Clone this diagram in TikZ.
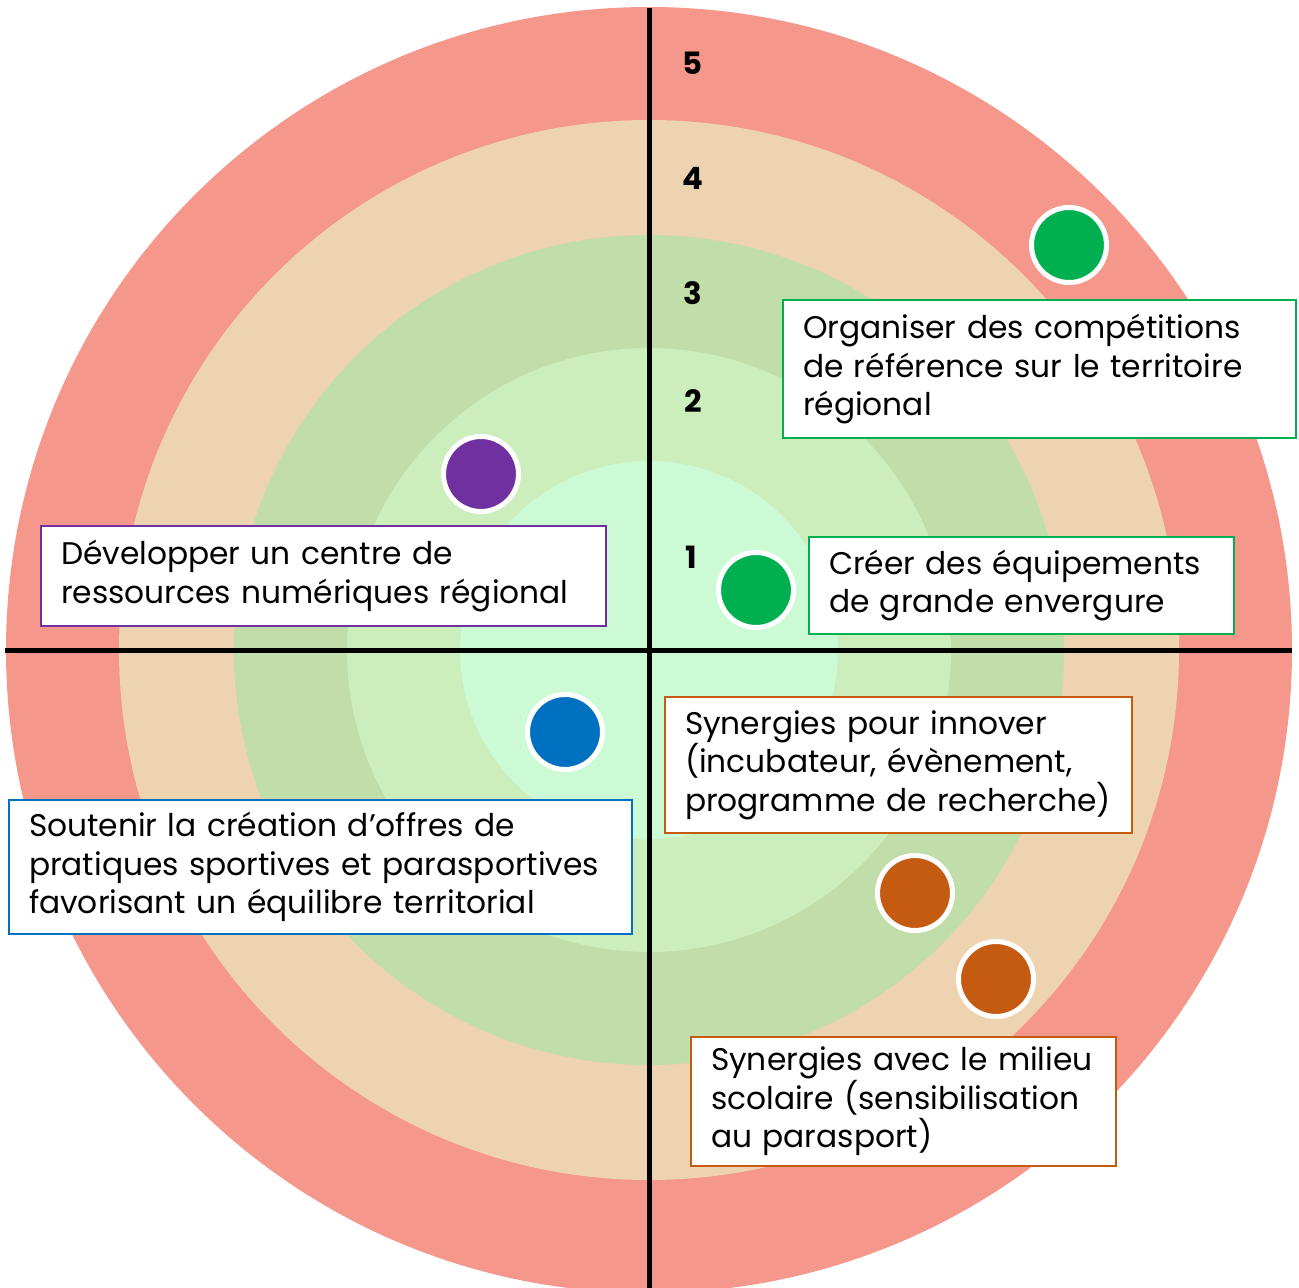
\documentclass[tikz,border=0pt]{standalone}
\usepackage{fontspec}
\setmainfont{Poppins}
\usepackage{xcolor}
\definecolor{ring-five}{HTML}{F5978A}
\definecolor{ring-four}{HTML}{EDD3B0}
\definecolor{ring-three}{HTML}{C0DDAA}
\definecolor{ring-two}{HTML}{CCEDBC}
\definecolor{ring-one}{HTML}{CCFAD4}
\definecolor{axe-green}{HTML}{00B050}
\definecolor{axe-purple}{HTML}{7030A0}
\definecolor{axe-blue}{HTML}{0070C0}
\definecolor{axe-orange}{HTML}{C55A11}
\usepackage{tikz}
\hyphenpenalty=10000

\tikzset{
    spot/.style={circle, fill=#1, draw=white, line width=1mm, minimum size=15mm, inner sep=0pt},
    infobox/.style={draw=#1, line width=0.4mm, fill=white, anchor=north west, align=left,
        inner xsep=4mm, inner ysep=0pt, font=\fontsize{17.8}{21.9}\selectfont},
    level/.style={font=\fontsize{17.5}{21}\selectfont\bfseries, inner sep=0pt}
}

\begin{document}
\begin{tikzpicture}[x=0.2mm, y=-0.2mm]

    \useasboundingbox (0, 0) rectangle (1299, 1288);

    % Rings
    \fill[ring-five] (649, 650) circle (643);
    \fill[ring-four] (649, 650) circle (530);
    \fill[ring-three] (649, 650) circle (415);
    \fill[ring-two] (649, 650) circle (302);
    \fill[ring-one] (649, 650) circle (189);

    % Axes
    \draw[black, line width=1mm] (649, 8) -- (649, 1288);
    \draw[black, line width=1mm] (5, 650) -- (1292, 650);

    % Levels
    \node[level] (lvl5) at (692, 63) {5};
    \node[level] (lvl4) at (693, 178) {4};
    \node[level] (lvl3) at (693, 293) {3};
    \node[level] (lvl2) at (693, 401) {2};
    \node[level] (lvl1) at (691, 557) {1};

    % Actions
    \node[spot=axe-green] (competitions) at (1069, 245) {};
    \node[spot=axe-purple] (numerique) at (481, 474) {};
    \node[spot=axe-green] (equipements) at (756, 590) {};
    \node[spot=axe-blue] (offres) at (565, 732) {};
    \node[spot=axe-orange] (innover) at (915, 893) {};
    \node[spot=axe-orange] (scolaire) at (996, 979) {};

    % Labels
    \node[infobox=axe-green, text width=94.6mm, minimum height=27.6mm] (competitionsbox) at (782, 299)
        {Organiser des compétitions\\de référence sur le territoire\\régional};
    \node[infobox=axe-green, text width=77mm, minimum height=19.4mm] (equipementsbox) at (808, 536)
        {Créer des équipements\\de grande envergure};
    \node[infobox=axe-purple, text width=105mm, minimum height=20mm] (numeriquebox) at (40, 525)
        {Développer un centre de\\ressources numériques régional};
    \node[infobox=axe-orange, text width=85.4mm, minimum height=27.2mm] (innoverbox) at (664, 696)
        {Synergies pour innover\\(incubateur, évènement,\\programme de recherche)};
    \node[infobox=axe-blue, text width=116.6mm, minimum height=26.8mm] (offresbox) at (8, 799)
        {Soutenir la création d’offres de\\pratiques sportives et parasportives\\favorisant un équilibre territorial};
    \node[infobox=axe-orange, text width=77mm, minimum height=25.8mm] (scolairebox) at (690, 1036)
        {Synergies avec le milieu\\scolaire (sensibilisation\\au parasport)};

\end{tikzpicture}
\end{document}
